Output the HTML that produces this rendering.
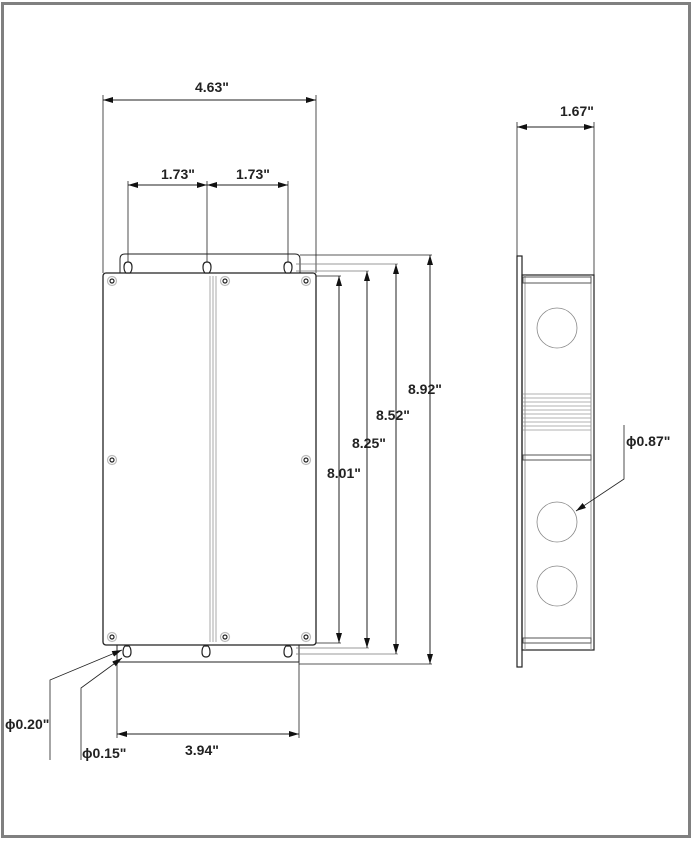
<!DOCTYPE html>
<html><head><meta charset="utf-8"><style>
html,body{margin:0;padding:0;background:#fff;}
svg{display:block;}
text{font-family:"Liberation Sans",sans-serif;font-weight:bold;font-size:14px;fill:#222;}
</style></head><body>
<svg width="693" height="842" viewBox="0 0 693 842" xmlns="http://www.w3.org/2000/svg">
<defs>
<marker id="a" viewBox="0 0 10 6" refX="10" refY="3" markerWidth="10" markerHeight="6" orient="auto-start-reverse" markerUnits="userSpaceOnUse"><path d="M0,0 L10,3 L0,6z" fill="#111"/></marker>
</defs>
<rect x="2.5" y="3.5" width="687" height="833" fill="none" stroke="#808080" stroke-width="3"/>
<g stroke="#222" stroke-width="1" fill="none">
<path d="M120,273 V259 Q120,254 125,254 H295 Q300,254 300,259 V273"/>
<path d="M117,645 V662 H299 V645"/>
<rect x="103" y="273" width="213" height="372" rx="3" stroke-width="1.3"/>
<line x1="210" y1="276" x2="210" y2="642" stroke="#aaa"/>
<line x1="213" y1="276" x2="213" y2="642" stroke="#aaa"/>
<line x1="216" y1="276" x2="216" y2="642" stroke="#aaa"/>
<g stroke-width="1.2" fill="#fff">
<path d="M128,262 q-4,0 -4,5 q0,4 2,6 h4 q2,-2 2,-6 q0,-5 -4,-5z"/>
<path d="M207,262 q-4,0 -4,5 q0,4 2,6 h4 q2,-2 2,-6 q0,-5 -4,-5z"/>
<path d="M288,262 q-4,0 -4,5 q0,4 2,6 h4 q2,-2 2,-6 q0,-5 -4,-5z"/>
<path d="M127,657 q-4,0 -4,-5 q0,-4 2,-6 h4 q2,2 2,6 q0,5 -4,5z"/>
<path d="M206,657 q-4,0 -4,-5 q0,-4 2,-6 h4 q2,2 2,6 q0,5 -4,5z"/>
<path d="M288,657 q-4,0 -4,-5 q0,-4 2,-6 h4 q2,2 2,6 q0,5 -4,5z"/>
</g>
<line x1="103" y1="95" x2="103" y2="273" stroke-width="0.8"/>
<line x1="316" y1="95" x2="316" y2="273" stroke-width="0.8"/>
<line x1="103" y1="100" x2="316" y2="100" marker-start="url(#a)" marker-end="url(#a)"/>
<line x1="128" y1="181" x2="128" y2="262" stroke-width="0.8"/>
<line x1="207" y1="181" x2="207" y2="262" stroke-width="0.8"/>
<line x1="288" y1="181" x2="288" y2="262" stroke-width="0.8"/>
<line x1="128" y1="185" x2="207" y2="185" marker-start="url(#a)" marker-end="url(#a)"/>
<line x1="207" y1="185" x2="288" y2="185" marker-start="url(#a)" marker-end="url(#a)"/>
<path d="M300,255 H432" stroke-width="0.8"/>
<path d="M296,264 H398" stroke-width="0.8" stroke="#777"/>
<path d="M296,271 H369" stroke-width="0.8" stroke="#777"/>
<path d="M316,276 H341" stroke-width="0.8"/>
<path d="M316,643 H341" stroke-width="0.8"/>
<path d="M296,648 H369" stroke-width="0.8" stroke="#777"/>
<path d="M296,654 H398" stroke-width="0.8" stroke="#777"/>
<path d="M299,664 H432" stroke-width="0.8"/>
<line x1="430" y1="255" x2="430" y2="664" marker-start="url(#a)" marker-end="url(#a)"/>
<line x1="396" y1="264" x2="396" y2="654" marker-start="url(#a)" marker-end="url(#a)"/>
<line x1="367" y1="271" x2="367" y2="648" marker-start="url(#a)" marker-end="url(#a)"/>
<line x1="339" y1="276" x2="339" y2="643" marker-start="url(#a)" marker-end="url(#a)"/>
<line x1="117" y1="662" x2="117" y2="738" stroke-width="0.8"/>
<line x1="299" y1="662" x2="299" y2="738" stroke-width="0.8"/>
<line x1="117" y1="734" x2="299" y2="734" marker-start="url(#a)" marker-end="url(#a)"/>
<path d="M50,760 V680 L122,650" marker-end="url(#a)" stroke-width="0.8"/>
<path d="M81,760 V688 L122,658" marker-end="url(#a)" stroke-width="0.8"/>
<line x1="517" y1="122" x2="517" y2="256" stroke-width="0.8"/>
<line x1="594" y1="122" x2="594" y2="275" stroke-width="0.8"/>
<line x1="517" y1="127" x2="594" y2="127" marker-start="url(#a)" marker-end="url(#a)"/>
<rect x="517" y="256" width="5" height="411" stroke-width="1.2"/>
<rect x="522" y="275" width="72" height="375" stroke-width="1.2"/>
<line x1="525" y1="275" x2="525" y2="650" stroke="#999"/>
<line x1="591" y1="275" x2="591" y2="650" stroke="#999"/>
<rect x="523" y="277" width="68" height="6" stroke="#555"/>
<rect x="523" y="455" width="68" height="5" stroke="#555"/>
<rect x="523" y="638" width="68" height="5" stroke="#555"/>
<g stroke="#999" stroke-width="0.8">
<line x1="523" y1="394" x2="591" y2="394"/><line x1="523" y1="398" x2="591" y2="398"/>
<line x1="523" y1="402" x2="591" y2="402"/><line x1="523" y1="406" x2="591" y2="406"/>
<line x1="523" y1="410" x2="591" y2="410"/><line x1="523" y1="414" x2="591" y2="414"/>
<line x1="523" y1="418" x2="591" y2="418"/><line x1="523" y1="422" x2="591" y2="422"/>
<line x1="523" y1="426" x2="591" y2="426"/><line x1="523" y1="430" x2="591" y2="430"/>
</g>
<g stroke="#888" stroke-width="0.8">
<circle cx="557" cy="328" r="20"/>
<circle cx="557" cy="522" r="20"/>
<circle cx="557" cy="586" r="20"/>
</g>
<path d="M624,425 V479 L576,511" marker-end="url(#a)" stroke-width="0.8"/>
</g>
<g fill="#fff" stroke="#bbb" stroke-width="1.2">
<circle cx="112" cy="281" r="4.5"/><circle cx="225" cy="281" r="4.5"/><circle cx="306" cy="281" r="4.5"/>
<circle cx="112" cy="460" r="4.5"/><circle cx="306" cy="460" r="4.5"/>
<circle cx="112" cy="637" r="4.5"/><circle cx="225" cy="637" r="4.5"/><circle cx="306" cy="637" r="4.5"/>
</g>
<g fill="#fff" stroke="#222" stroke-width="1.2">
<circle cx="112" cy="281" r="2"/><circle cx="225" cy="281" r="2"/><circle cx="306" cy="281" r="2"/>
<circle cx="112" cy="460" r="2"/><circle cx="306" cy="460" r="2"/>
<circle cx="112" cy="637" r="2"/><circle cx="225" cy="637" r="2"/><circle cx="306" cy="637" r="2"/>
</g>
<text x="195" y="92">4.63"</text>
<text x="161" y="179">1.73"</text>
<text x="236" y="179">1.73"</text>
<text x="408" y="394">8.92"</text>
<text x="376" y="420">8.52"</text>
<text x="352" y="448">8.25"</text>
<text x="327" y="478">8.01"</text>
<text x="185" y="755">3.94"</text>
<text x="560" y="116">1.67"</text>
<text x="626" y="446">ϕ0.87"</text>
<text x="5" y="729">ϕ0.20"</text>
<text x="82" y="758">ϕ0.15"</text>
</svg>
</body></html>
